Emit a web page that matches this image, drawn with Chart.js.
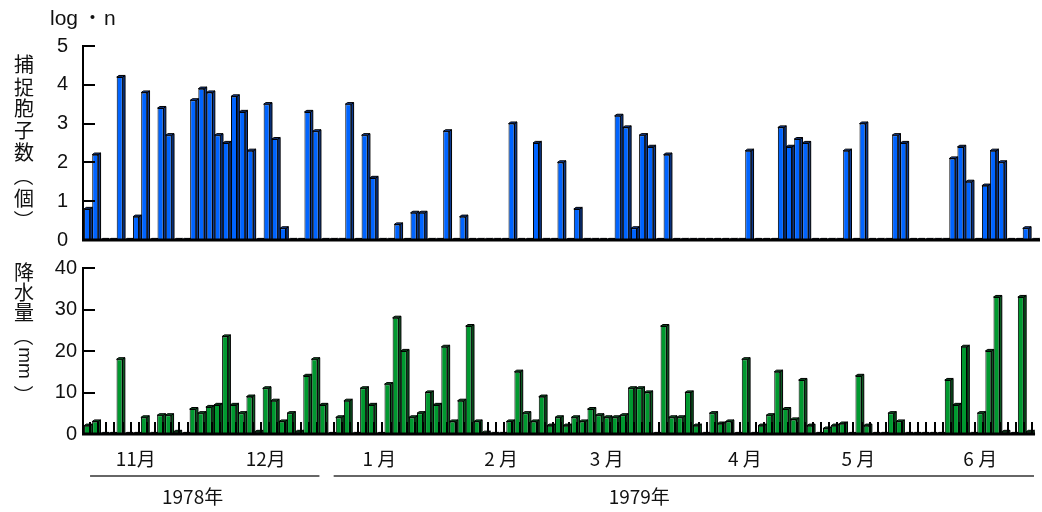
<!DOCTYPE html>
<html>
<head>
<meta charset="utf-8">
<script src="https://cdn.jsdelivr.net/npm/chart.js@4.4.1/dist/chart.umd.min.js"></script>
<style>
  body { margin: 0; background: #fff; }
  #wrap { position: relative; width: 1042px; height: 512px; }
  #wrap canvas { position: absolute; left: 0; }
  #top { top: 0; }
  #bot { top: 250px; }
</style>
</head>
<body>
<div id="wrap">
  <canvas id="top" width="1042" height="280"></canvas>
  <canvas id="bot" width="1042" height="262"></canvas>
</div>
<script>
// one bar every ~2 days, Nov 1978 .. Jun 1979
const spores = [
  0.8, 2.2, 0, 0, 4.2, 0, 0.6, 3.8, 0, 3.4, 2.7, 0, 0, 3.6, 3.9, 3.8, 2.7, 2.5, 3.7, 3.3,
  2.3, 0, 3.5, 2.6, 0.3, 0, 0, 3.3, 2.8, 0, 0, 0, 3.5, 0, 2.7, 1.6, 0, 0, 0.4, 0,
  0.7, 0.7, 0, 0, 2.8, 0, 0.6, 0, 0, 0, 0, 0, 3.0, 0, 0, 2.5, 0, 0, 2.0, 0,
  0.8, 0, 0, 0, 0, 3.2, 2.9, 0.3, 2.7, 2.4, 0, 2.2, 0, 0, 0, 0, 0, 0, 0, 0,
  0, 2.3, 0, 0, 0, 2.9, 2.4, 2.6, 2.5, 0, 0, 0, 0, 2.3, 0, 3.0, 0, 0, 0, 2.7,
  2.5, 0, 0, 0, 0, 0, 2.1, 2.4, 1.5, 0, 1.4, 2.3, 2.0, 0, 0, 0.3, 0
];
const rain = [
  2, 3, 0, 0, 18, 0, 0, 4, 0, 4.5, 4.5, 0.5, 0, 6, 5, 6.5, 7, 23.5, 7, 5,
  9, 0.5, 11, 8, 3, 5, 0.5, 14, 18, 7, 0, 4, 8, 0, 11, 7, 0, 12, 28, 20,
  4, 5, 10, 7, 21, 3, 8, 26, 3, 0.3, 0, 0, 3, 15, 5, 3, 9, 2, 4, 2,
  4, 3, 6, 4.5, 4, 4, 4.5, 11, 11, 10, 0, 26, 4, 4, 10, 2, 0, 5, 2.5, 3,
  0, 18, 0, 2, 4.5, 15, 6, 3.5, 13, 2, 0, 1.3, 2, 2.5, 0, 14, 2, 0, 0, 5,
  3, 0, 0, 0, 0, 0, 13, 7, 21, 0, 5, 20, 33, 0.5, 0, 33, 0.5
];
const monthTicks = ['11月', '12月', '1 月', '2 月', '3 月', '4 月', '5 月', '6 月'];
const monthAt    = [6, 22, 36, 51, 64, 81, 95, 110];
const years      = ['1978年', '1979年'];
const yearFrom   = [0, 30];
const yearTo     = [28, 116];
const yearLabelAt = [13, 68];

const categories = spores.map((_, i) => i);
const FONT = "'Liberation Sans', Arial, sans-serif";
const JFONT = "'Noto Sans CJK JP', sans-serif";

// ── 3D faces on each bar (side + top) ─────────────────────────────────────────
const bar3d = {
  id: 'bar3d',
  afterDatasetsDraw(chart, args, o) {
    const ctx = chart.ctx;
    ctx.save();
    ctx.lineWidth = 1;
    ctx.strokeStyle = '#000';
    chart.getDatasetMeta(0).data.forEach(bar => {
      const { x, y, base, width } = bar.getProps(['x', 'y', 'base', 'width'], true);
      const l = x - width / 2, r = x + width / 2, d = o.depth, h = o.rise;
      ctx.fillStyle = o.side;
      ctx.beginPath();
      ctx.moveTo(r, y); ctx.lineTo(r + d, y - h); ctx.lineTo(r + d, base); ctx.lineTo(r, base);
      ctx.closePath(); ctx.fill(); ctx.stroke();
      ctx.fillStyle = o.top;
      ctx.beginPath();
      ctx.moveTo(l, y); ctx.lineTo(l + d, y - h); ctx.lineTo(r + d, y - h); ctx.lineTo(r, y);
      ctx.closePath(); ctx.fill(); ctx.stroke();
    });
    ctx.restore();
  }
};

// ── inward y ticks, base ticks, vertical titles ───────────────────────────────
const decor = {
  id: 'decor',
  afterDraw(chart, args, o) {
    const ctx = chart.ctx, ys = chart.scales.y, xs = chart.scales.x;
    ctx.save();
    ctx.strokeStyle = '#000';
    ctx.lineWidth = 2;
    ys.ticks.forEach(t => {
      const py = Math.round(ys.getPixelForValue(t.value));
      ctx.beginPath(); ctx.moveTo(ys.right, py); ctx.lineTo(ys.right + 12, py); ctx.stroke();
    });
    if (o.baseTicks) {
      const w = xs.width / categories.length, b = ys.getPixelForValue(0);
      for (let i = 1; i <= categories.length; i++) {
        const px = Math.round(xs.left + i * w) - 1;
        ctx.beginPath(); ctx.moveTo(px, b); ctx.lineTo(px, b - 12); ctx.stroke();
      }
    }
    // baseline on top of bars
    ctx.lineWidth = 3;
    const by = ys.getPixelForValue(0);
    ctx.beginPath(); ctx.moveTo(ys.right - 1, by); ctx.lineTo(xs.right + 2, by); ctx.stroke();

    // vertical title
    ctx.fillStyle = '#111';
    ctx.textAlign = 'center';
    ctx.textBaseline = 'middle';
    o.title.forEach(([s, cy]) => {
      const rot = /[（）a-z]/.test(s);
      ctx.font = (/[a-z]/.test(s) ? '19px ' + FONT : '20px ' + JFONT);
      ctx.save();
      ctx.translate(24, cy);
      if (rot) ctx.rotate(Math.PI / 2);
      ctx.fillText(s, 0, 0);
      ctx.restore();
    });
    if (o.unit) {
      ctx.textAlign = 'left';
      ctx.textBaseline = 'alphabetic';
      ctx.font = '21px ' + FONT;
      ctx.fillText('log', 50, 25);
      ctx.font = '19px ' + JFONT;
      ctx.fillText('・', 83, 25);
      ctx.font = '21px ' + FONT;
      ctx.fillText('n', 104, 25);
    }
    if (o.years) {
      ctx.lineWidth = 1.5;
      ctx.strokeStyle = '#333';
      ctx.textAlign = 'center';
      ctx.textBaseline = 'middle';
      ctx.font = '19px ' + JFONT;
      years.forEach((y, k) => {
        const x1 = xs.getPixelForValue(yearFrom[k]) + 3, x2 = xs.getPixelForValue(yearTo[k]) + 5;
        ctx.beginPath(); ctx.moveTo(x1, 226); ctx.lineTo(x2, 226); ctx.stroke();
        ctx.fillText(y, xs.getPixelForValue(yearLabelAt[k]), 247);
      });
    }
    ctx.restore();
  }
};

function yAxis(max, step, pad) {
  return {
    min: 0, max: max,
    afterFit: s => { s.width = 83; },
    ticks: { stepSize: step, padding: pad, color: '#111', font: { family: FONT, size: 20 } },
    grid: { display: true, drawOnChartArea: false, drawTicks: false },
    border: { display: true, color: '#000', width: 2 }
  };
}

// ── top: trapped spores ───────────────────────────────────────────────────────
new Chart(document.getElementById('top'), {
  type: 'bar',
  data: {
    labels: categories,
    datasets: [{
      data: spores,
      backgroundColor: '#0064ff',
      borderColor: '#000',
      borderWidth: 1,
      barPercentage: 0.74,
      categoryPercentage: 1
    }]
  },
  plugins: [bar3d, decor],
  options: {
    responsive: false,
    animation: false,
    layout: { padding: { top: 46, right: 4, bottom: 0, left: 0 } },
    plugins: {
      legend: { display: false },
      tooltip: { enabled: false },
      bar3d: { depth: 2.3, rise: 1.6, side: '#0b3a92', top: '#1748b0' },
      decor: {
        unit: true,
        title: [['捕', 64.5], ['捉', 87], ['胞', 108], ['子', 130], ['数', 152.5], ['（', 176], ['個', 198], ['）', 220]]
      }
    },
    scales: {
      x: {
        afterFit: s => { s.height = 40; },
        ticks: { display: false },
        grid: { display: false },
        border: { display: false }
      },
      y: yAxis(5, 1, 15)
    }
  }
});

// ── bottom: precipitation ─────────────────────────────────────────────────────
new Chart(document.getElementById('bot'), {
  type: 'bar',
  data: {
    labels: categories,
    datasets: [{
      data: rain,
      backgroundColor: '#00992f',
      borderColor: '#000',
      borderWidth: 1,
      barPercentage: 0.74,
      categoryPercentage: 1
    }]
  },
  plugins: [bar3d, decor],
  options: {
    responsive: false,
    animation: false,
    layout: { padding: { top: 14, right: 4, bottom: 0, left: 0 } },
    plugins: {
      legend: { display: false },
      tooltip: { enabled: false },
      bar3d: { depth: 2.3, rise: 1.6, side: '#0b5a22', top: '#0e6a2a' },
      decor: {
        baseTicks: true,
        years: true,
        title: [['降', 22.5], ['水', 42], ['量', 62], ['（', 86], ['mm', 113], ['）', 145]]
      }
    },
    scales: {
      x: {
        afterFit: s => { s.height = 78; },
        ticks: {
          autoSkip: false, maxRotation: 0, padding: 13, color: '#111',
          font: { family: JFONT, size: 19 },
          callback: (v, i) => { const k = monthAt.indexOf(i); return k < 0 ? '' : monthTicks[k]; }
        },
        grid: { display: true, drawOnChartArea: false, drawTicks: false },
        border: { display: false }
      },
      y: yAxis(40, 10, 6)
    }
  }
});
</script>
</body>
</html>
